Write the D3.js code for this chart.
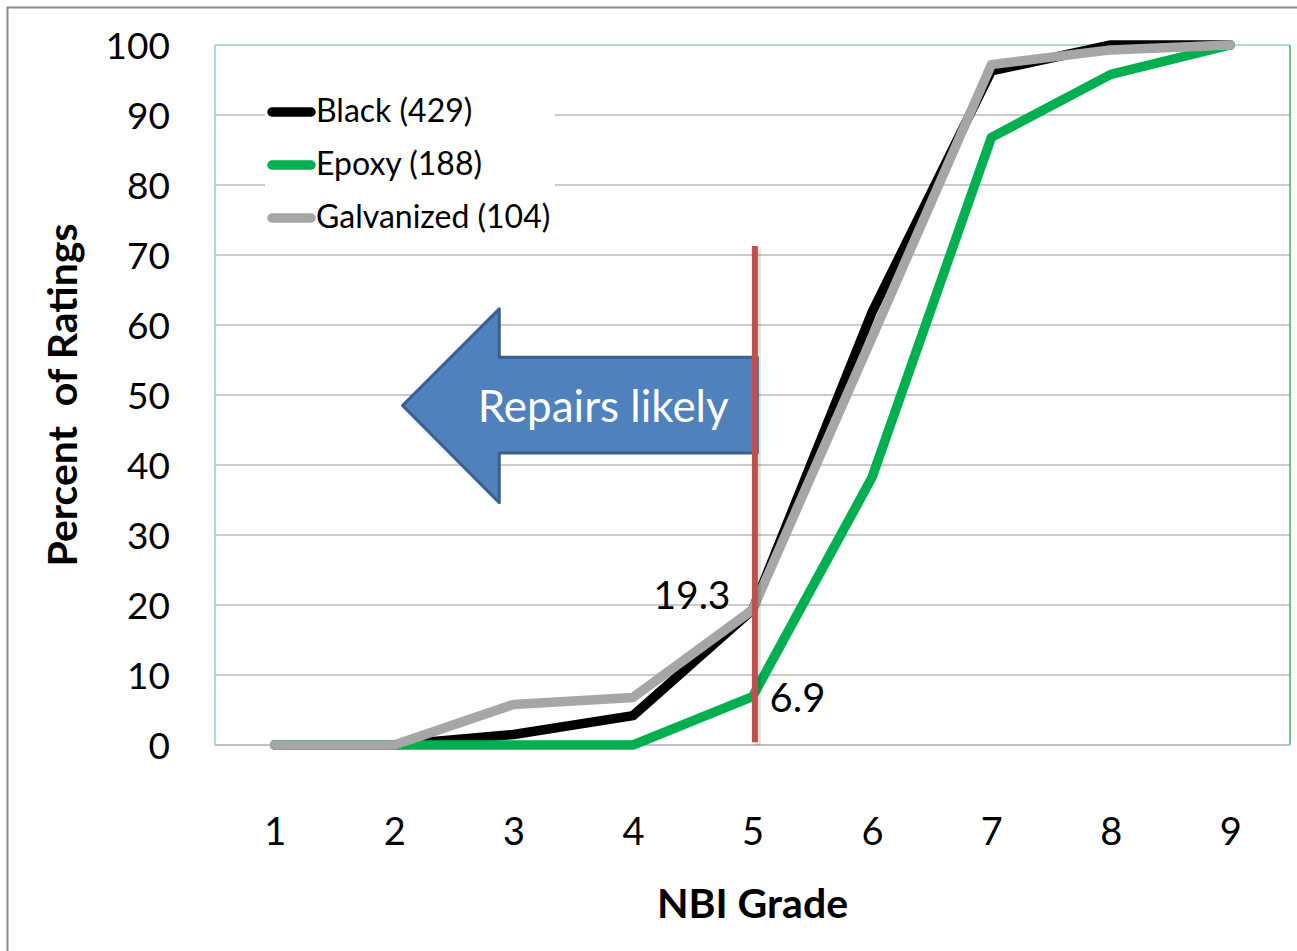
<html>
<head>
<meta charset="utf-8">
<script src="https://d3js.org/d3.v7.min.js"></script>
<style>
  body { margin: 0; background: #fff; }
  text { font-family: Lato, "Open Sans", sans-serif; fill: #000; }
</style>
</head>
<body>
<svg width="1297" height="951"></svg>
<script>
// data
const grades = [1, 2, 3, 4, 5, 6, 7, 8, 9];
const blackPct = [0, 0, 1.5, 4.2, 19.3, 61.8, 96.3, 100, 100];
const epoxyPct = [0, 0, 0, 0, 6.9, 38.2, 86.8, 95.8, 100];
const galvPct  = [0, 0, 5.8, 6.8, 19.3, 58.2, 97.2, 99.3, 100];
const seriesNames = ["Black (429)", "Epoxy (188)", "Galvanized (104)"];
const seriesColors = ["#000000", "#00b050", "#a6a6a6"];
const yTicks = [0, 10, 20, 30, 40, 50, 60, 70, 80, 90, 100];
const labels = [{ g: 5, v: 19.3, text: "19.3" }, { g: 5, v: 6.9, text: "6.9" }];

const plotL = 215, plotR = 1290, plotT = 45, plotB = 745;

var svg = d3.select("svg");

// outer chart border
svg.append("rect").attr("x", 7.5).attr("y", 7.5).attr("width", 1400).attr("height", 1000)
  .attr("fill", "none").attr("stroke", "#8c8c8c").attr("stroke-width", 2);

var x = d3.scalePoint().domain(grades).range([plotL, plotR]).padding(0.5);
var xl = d3.scaleLinear().domain([1, 9]).range([x(1), x(9)]);
var y = d3.scaleLinear().domain([0, 100]).range([plotB, plotT]);

// gridlines
svg.append("g").selectAll("line")
  .data(yTicks.filter(d => d > 0 && d < 100))
  .enter().append("line")
    .attr("x1", plotL).attr("x2", plotR)
    .attr("y1", d => y(d)).attr("y2", d => y(d))
    .attr("stroke", "#989898").attr("stroke-width", 1.2);

// plot area border
svg.append("line").attr("x1", plotL).attr("x2", plotR).attr("y1", plotT).attr("y2", plotT)
  .attr("stroke", "#86d9ab").attr("stroke-width", 1.5);
svg.append("line").attr("x1", plotL).attr("x2", plotL).attr("y1", plotT).attr("y2", plotB)
  .attr("stroke", "#86d9ab").attr("stroke-width", 1.5);
svg.append("line").attr("x1", plotR).attr("x2", plotR).attr("y1", plotT).attr("y2", plotB)
  .attr("stroke", "#3cb46e").attr("stroke-width", 1.5);
svg.append("line").attr("x1", plotL).attr("x2", plotR).attr("y1", plotB).attr("y2", plotB)
  .attr("stroke", "#c0c0c0").attr("stroke-width", 2);

// y axis
var yAxis = svg.append("g").attr("transform", "translate(" + plotL + ",0)")
  .call(d3.axisLeft(y).tickValues(yTicks).tickSize(0).tickPadding(45));
yAxis.select(".domain").remove();
yAxis.selectAll("text").style("font-size", "37px").attr("dy", "0.36em");

// x axis
var xAxis = svg.append("g").attr("transform", "translate(0," + plotB + ")")
  .call(d3.axisBottom(x).tickSize(0));
xAxis.select(".domain").remove();
xAxis.selectAll("text").style("font-size", "38px").attr("y", 100).attr("dy", 0);

// axis titles
svg.append("text").attr("x", x(5)).attr("y", 918).attr("text-anchor", "middle")
  .style("font-size", "41px").style("font-weight", "bold").text("NBI Grade");
svg.append("text").attr("transform", "translate(77,395) rotate(-90)").attr("text-anchor", "middle")
  .style("font-size", "41px").style("font-weight", "bold").style("white-space", "pre")
  .attr("xml:space", "preserve").text("Percent  of Ratings");

// arrow annotation
const arrowG = [2.07, 2.88, 5.04];
const arrowV = [62.3, 55.4, 48.5, 41.7, 34.6];
var arrowPts = [
  [xl(arrowG[0]), y(arrowV[2])], [xl(arrowG[1]), y(arrowV[0])], [xl(arrowG[1]), y(arrowV[1])],
  [xl(arrowG[2]), y(arrowV[1])], [xl(arrowG[2]), y(arrowV[3])], [xl(arrowG[1]), y(arrowV[3])],
  [xl(arrowG[1]), y(arrowV[4])]
];
svg.append("path").attr("d", d3.line()(arrowPts) + "Z")
  .attr("fill", "#4f81bd").attr("stroke", "#3a5f8e").attr("stroke-width", 3)
  .attr("stroke-linejoin", "round");
svg.append("text").attr("x", xl(3.75)).attr("y", y(46.2)).attr("text-anchor", "middle")
  .style("font-size", "44px").style("fill", "#fff").text("Repairs likely");

// lines
var line = d3.line().x((d, i) => x(grades[i])).y(d => y(d));
[blackPct, epoxyPct, galvPct].forEach(function(s, k) {
  svg.append("path").datum(s).attr("d", line)
    .attr("fill", "none").attr("stroke", seriesColors[k]).attr("stroke-width", 9.5)
    .attr("stroke-linejoin", "round").attr("stroke-linecap", "round");
});

// red threshold line with soft shadow
svg.append("line").attr("x1", xl(5.02) + 3).attr("x2", xl(5.02) + 3)
  .attr("y1", y(71.3) + 3).attr("y2", y(0.4) + 3)
  .attr("stroke", "#000").attr("stroke-opacity", 0.12).attr("stroke-width", 6);
svg.append("line").attr("x1", xl(5.02)).attr("x2", xl(5.02))
  .attr("y1", y(71.3)).attr("y2", y(0.4))
  .attr("stroke", "#c0504d").attr("stroke-width", 6);

// data labels
svg.append("text").attr("x", x(labels[0].g) - 22).attr("y", y(labels[0].v) - 1)
  .attr("text-anchor", "end").style("font-size", "39px").text(labels[0].text);
svg.append("text").attr("x", x(labels[1].g) + 17).attr("y", y(labels[1].v) + 15)
  .attr("text-anchor", "start").style("font-size", "40px").text(labels[1].text);

// legend
var legend = svg.append("g");
legend.append("rect").attr("x", 265).attr("y", 86).attr("width", 290).attr("height", 152).attr("fill", "#fff");
seriesNames.forEach(function(n, i) {
  var ly = 112 + i * 53;
  legend.append("line").attr("x1", 272).attr("x2", 311).attr("y1", ly).attr("y2", ly)
    .attr("stroke", seriesColors[i]).attr("stroke-width", 9.5).attr("stroke-linecap", "round");
  legend.append("text").attr("x", 316).attr("y", ly + 10).style("font-size", "32px").text(n);
});
</script>
</body>
</html>
